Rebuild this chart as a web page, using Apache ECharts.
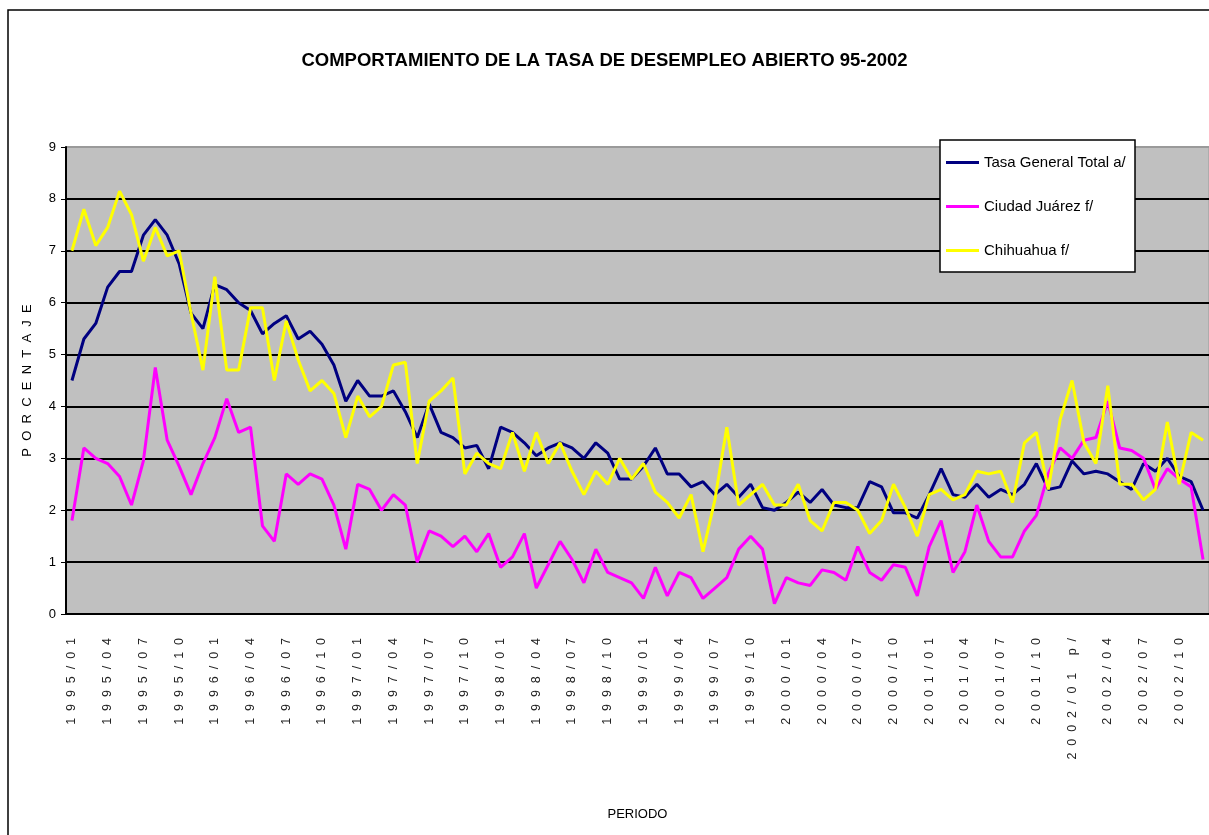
<!DOCTYPE html>
<html>
<head>
<meta charset="utf-8">
<title>Tasa de desempleo abierto 95-2002</title>
<script src="https://cdn.jsdelivr.net/npm/echarts@6/dist/echarts.min.js"></script>
<style>
html, body { margin: 0; padding: 0; background: #fff; }
#chart { width: 1209px; height: 835px; }
</style>
</head>
<body>
<div id="chart"></div>
<script>
// periodos mensuales (el reporte marca 2002/01 como preliminar)
const periodos = [
  "1995/01", "1995/02", "1995/03", "1995/04", "1995/05", "1995/06", "1995/07", "1995/08", "1995/09", "1995/10", "1995/11", "1995/12",
  "1996/01", "1996/02", "1996/03", "1996/04", "1996/05", "1996/06", "1996/07", "1996/08", "1996/09", "1996/10", "1996/11", "1996/12",
  "1997/01", "1997/02", "1997/03", "1997/04", "1997/05", "1997/06", "1997/07", "1997/08", "1997/09", "1997/10", "1997/11", "1997/12",
  "1998/01", "1998/02", "1998/03", "1998/04", "1998/05", "1998/06", "1998/07", "1998/08", "1998/09", "1998/10", "1998/11", "1998/12",
  "1999/01", "1999/02", "1999/03", "1999/04", "1999/05", "1999/06", "1999/07", "1999/08", "1999/09", "1999/10", "1999/11", "1999/12",
  "2000/01", "2000/02", "2000/03", "2000/04", "2000/05", "2000/06", "2000/07", "2000/08", "2000/09", "2000/10", "2000/11", "2000/12",
  "2001/01", "2001/02", "2001/03", "2001/04", "2001/05", "2001/06", "2001/07", "2001/08", "2001/09", "2001/10", "2001/11", "2001/12",
  "2002/01 p/", "2002/02", "2002/03", "2002/04", "2002/05", "2002/06", "2002/07", "2002/08", "2002/09", "2002/10", "2002/11", "2002/12"
];

const tasaGeneral = [
  4.5, 5.3, 5.6, 6.3, 6.6, 6.6, 7.3, 7.6, 7.3, 6.75, 5.8, 5.5,
  6.35, 6.25, 6.0, 5.85, 5.4, 5.6, 5.75, 5.3, 5.45, 5.2, 4.8, 4.1,
  4.5, 4.2, 4.2, 4.3, 3.9, 3.4, 4.05, 3.5, 3.4, 3.2, 3.25, 2.8,
  3.6, 3.5, 3.3, 3.05, 3.2, 3.3, 3.2, 3.0, 3.3, 3.1, 2.6, 2.6,
  2.85, 3.2, 2.7, 2.7, 2.45, 2.55, 2.3, 2.5, 2.25, 2.5, 2.05, 2.0,
  2.15, 2.35, 2.15, 2.4, 2.1, 2.05, 2.05, 2.55, 2.45, 1.95, 1.95, 1.85,
  2.3, 2.8, 2.3, 2.25, 2.5, 2.25, 2.4, 2.3, 2.5, 2.9, 2.4, 2.45,
  2.95, 2.7, 2.75, 2.7, 2.55, 2.4, 2.9, 2.75, 3.0, 2.65, 2.55, 2.0
];

const ciudadJuarez = [
  1.8, 3.2, 3.0, 2.9, 2.65, 2.1, 2.95, 4.75, 3.35, 2.85, 2.3, 2.9,
  3.4, 4.15, 3.5, 3.6, 1.7, 1.4, 2.7, 2.5, 2.7, 2.6, 2.1, 1.25,
  2.5, 2.4, 2.0, 2.3, 2.1, 1.0, 1.6, 1.5, 1.3, 1.5, 1.2, 1.55,
  0.9, 1.1, 1.55, 0.5, 0.95, 1.4, 1.05, 0.6, 1.25, 0.8, 0.7, 0.6,
  0.3, 0.9, 0.35, 0.8, 0.7, 0.3, 0.5, 0.7, 1.25, 1.5, 1.25, 0.2,
  0.7, 0.6, 0.55, 0.85, 0.8, 0.65, 1.3, 0.8, 0.65, 0.95, 0.9, 0.35,
  1.3, 1.8, 0.8, 1.2, 2.1, 1.4, 1.1, 1.1, 1.6, 1.9, 2.7, 3.2,
  3.0, 3.35, 3.4, 4.1, 3.2, 3.15, 3.0, 2.4, 2.8, 2.6, 2.45, 1.05
];

const chihuahua = [
  7.0, 7.8, 7.1, 7.45, 8.15, 7.7, 6.8, 7.45, 6.9, 7.0, 5.8, 4.7,
  6.5, 4.7, 4.7, 5.9, 5.9, 4.5, 5.65, 4.9, 4.3, 4.5, 4.25, 3.4,
  4.2, 3.8, 4.0, 4.8, 4.85, 2.9, 4.1, 4.3, 4.55, 2.7, 3.1, 2.9,
  2.8, 3.5, 2.75, 3.5, 2.9, 3.3, 2.75, 2.3, 2.75, 2.5, 3.0, 2.6,
  2.9, 2.35, 2.15, 1.85, 2.3, 1.2, 2.2, 3.6, 2.1, 2.3, 2.5, 2.1,
  2.1, 2.5, 1.8, 1.6, 2.15, 2.15, 2.0, 1.55, 1.8, 2.5, 2.05, 1.5,
  2.3, 2.4, 2.2, 2.3, 2.75, 2.7, 2.75, 2.15, 3.3, 3.5, 2.4, 3.75,
  4.5, 3.3, 2.9, 4.4, 2.5, 2.5, 2.2, 2.4, 3.7, 2.5, 3.5, 3.35
];

const FONT = '"Liberation Sans Narrow", "Arial Narrow", "Liberation Sans", Arial, sans-serif';

const chart = echarts.init(document.getElementById("chart"));

const option = {
  backgroundColor: "#ffffff",
  animation: false,
  textStyle: { fontFamily: FONT },
  title: {
    text: "COMPORTAMIENTO DE LA TASA DE DESEMPLEO ABIERTO 95-2002",
    left: "center",
    top: 46,
    textStyle: { fontFamily: FONT, fontSize: 18.5, fontWeight: "bold", color: "#000" },
  },
  legend: {
    data: ["Tasa General Total a/", "Ciudad Juárez f/", "Chihuahua f/"],
    orient: "vertical",
    left: 946,
    top: 155,
    icon: "rect",
    itemWidth: 33,
    itemHeight: 3,
    itemGap: 29,
    padding: 0,
    textStyle: { fontFamily: FONT, fontSize: 15, color: "#000" },
  },
  grid: {
    left: 66,
    top: 147,
    width: 1152,
    height: 467,
    show: true,
    backgroundColor: "#c0c0c0",
    borderColor: "#9a9a9a",
    borderWidth: 1,
  },
  xAxis: {
    type: "category",
    data: periodos,
    boundaryGap: true,
    name: "PERIODO",
    nameLocation: "middle",
    nameGap: 194,
    nameTextStyle: { fontFamily: FONT, fontSize: 13, color: "#000" },
    axisLine: { lineStyle: { color: "#000", width: 2 } },
    axisTick: { interval: 0, length: 5, lineStyle: { color: "#000", width: 1 } },
    axisLabel: {
      interval: 2,
      rotate: 90,
      margin: 24,
      fontFamily: FONT,
      fontSize: 12.5,
      color: "#222",
      formatter: (v) => v.split("").join("  "),
    },
  },
  yAxis: {
    type: "value",
    min: 0,
    max: 9,
    interval: 1,
    name: "P  O  R  C  E  N  T  A  J  E",
    nameLocation: "middle",
    nameRotate: 90,
    nameGap: 32,
    nameTextStyle: { fontFamily: FONT, fontSize: 13, color: "#000" },
    axisLine: { show: true, lineStyle: { color: "#000", width: 2 } },
    axisTick: { show: true, length: 5, lineStyle: { color: "#000" } },
    axisLabel: { fontFamily: FONT, fontSize: 13, color: "#000", margin: 10 },
    splitLine: {
      show: true,
      lineStyle: {
        width: 2,
        color: ["#000", "#000", "#000", "#000", "#000", "#000", "#000", "#000", "#000", "#9a9a9a"],
      },
    },
  },
  series: [
    {
      name: "Tasa General Total a/",
      type: "line",
      data: tasaGeneral,
      showSymbol: false,
      color: "#000080",
      lineStyle: { width: 3, color: "#000080" },
    },
    {
      name: "Ciudad Juárez f/",
      type: "line",
      data: ciudadJuarez,
      showSymbol: false,
      color: "#ff00ff",
      lineStyle: { width: 3, color: "#ff00ff" },
    },
    {
      name: "Chihuahua f/",
      type: "line",
      data: chihuahua,
      showSymbol: false,
      color: "#ffff00",
      lineStyle: { width: 3, color: "#ffff00" },
    },
  ],
  graphic: [
    {
      // caja blanca de la leyenda
      type: "rect",
      z: 3,
      shape: { x: 940, y: 140, width: 195, height: 132 },
      style: { fill: "#fff", stroke: "#000", lineWidth: 1.5 },
    },
    {
      // marco exterior del grafico
      type: "rect",
      z: 10,
      shape: { x: 8, y: 10, width: 1400, height: 1000 },
      style: { fill: "none", stroke: "#000", lineWidth: 1.5 },
    },
  ],
};

chart.setOption(option);
</script>
</body>
</html>
